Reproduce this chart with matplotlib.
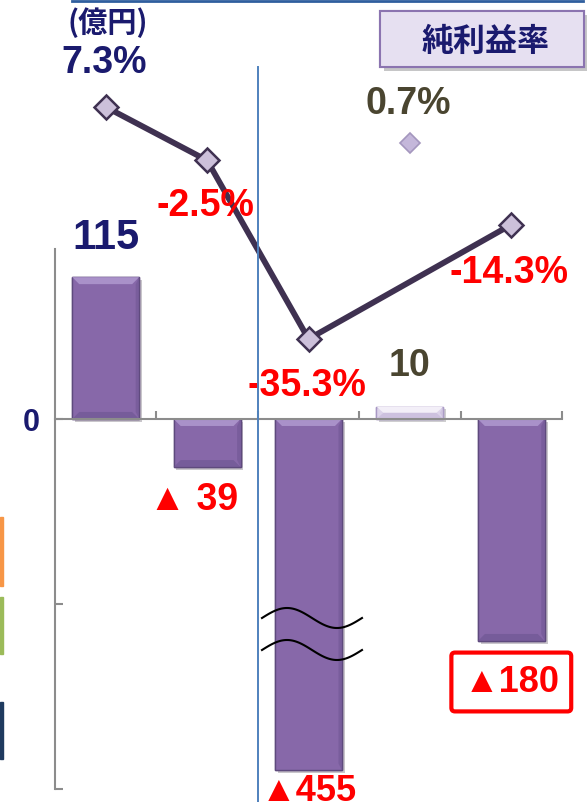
import numpy as np
import matplotlib
matplotlib.use("Agg")
import matplotlib.pyplot as plt
import matplotlib.patheffects as pe
from matplotlib.patches import Rectangle, FancyBboxPatch, Polygon
from matplotlib.lines import Line2D

# data
amounts = [115, -39, -455, 10, -180]
amount_labels = ["115", "▲ 39", "▲455", "10", "▲180"]
amount_shown = [115, -39, -285, 10, -180]   # the -455 bar is drawn broken
rates = [7.3, -2.5, -35.3, 0.7, -14.3]
rate_labels = ["7.3%", "-2.5%", "-35.3%", "0.7%", "-14.3%"]
line_idx = [0, 1, 2, 4]

W, H = 587, 803
NAVY = "#1A1A6E"
RED = "#FF0000"
OLIVE = "#4A4530"
LATIN = ["Liberation Sans", "DejaVu Sans"]
CJK = ["Noto Sans CJK JP", "DejaVu Sans"]

fig = plt.figure(figsize=(W / 100, H / 100), dpi=100)

def fx(px):
    return px / W

def fy(py):
    return 1 - py / H

ax = fig.add_axes([fx(55), fy(790), fx(562 - 55), 790 / H])
x = np.arange(len(amounts))

# bars
colors = ["#8768A9"] * 5
colors[3] = "#DCD3EA"
edges = ["#5E4A7D"] * 5
edges[3] = "#A898C4"
bw = 0.66
bars = ax.bar(x, amount_shown, width=bw, color=colors, edgecolor=edges,
              linewidth=1.0, zorder=2)
for b in bars:
    b.set_path_effects([pe.withSimplePatchShadow(offset=(2, -2), alpha=0.25),
                        pe.Normal()])

ax.set_xlim(-0.5, 4.5)
ax.set_ylim(-300, 340.5)

# bevel look: light band on top edge, darker band at the bottom edge
dx = 7 / 101.4
dy = 7 / 1.2333
for i, v in enumerate(amount_shown):
    l, r = x[i] - bw / 2, x[i] + bw / 2
    top, bot = max(v, 0), min(v, 0)
    d = min(dy, (top - bot) / 2)
    light = "#A991C9" if i != 3 else "#F3EFF8"
    dark = "#6C5490" if i != 3 else "#C3B6D8"
    ax.add_patch(Polygon([(l, top), (r, top), (r - dx, top - d), (l + dx, top - d)],
                         closed=True, fc=light, ec="none", zorder=2.1))
    if i != 2:
        ax.add_patch(Polygon([(l, bot), (r, bot), (r - dx, bot + d), (l + dx, bot + d)],
                             closed=True, fc=dark, ec="none", alpha=0.6, zorder=2.1))
    ax.add_patch(Polygon([(r, top), (r, bot), (r - dx * 0.5, bot + d), (r - dx * 0.5, top - d)],
                         closed=True, fc=dark, ec="none", alpha=0.5, zorder=2.1))

for s in ["top", "right"]:
    ax.spines[s].set_visible(False)
ax.spines["bottom"].set_position(("data", 0))
ax.spines["bottom"].set_color("#8C8C8C")
ax.spines["bottom"].set_linewidth(1.5)
ax.spines["left"].set_color("#8C8C8C")
ax.spines["left"].set_linewidth(1.5)
ax.spines["left"].set_bounds(-300, 138)

ax.set_yticks([-300, -150, 0])
ax.set_yticklabels(["", "", "0"])
ax.tick_params(axis="y", direction="in", length=6, width=1.5, color="#8C8C8C",
               pad=11, labelsize=22, labelcolor=NAVY)
for t in ax.get_yticklabels():
    t.set_fontweight("bold")
    t.set_family(LATIN)
ax.set_xticks([0.5, 1.5, 2.5, 3.5, 4.5])
ax.set_xticklabels([])
ax.tick_params(axis="x", direction="in", length=6, width=1.5, color="#8C8C8C")

# bar labels
for i, (v, lab) in enumerate(zip(amount_shown, amount_labels)):
    if i == 0:
        ax.annotate(lab, (x[i], v), xytext=(0, 40), textcoords="offset pixels",
                    ha="center", va="center", fontsize=30, fontweight="bold",
                    color=NAVY, family=LATIN, zorder=5)
    elif i == 3:
        ax.annotate(lab, (x[i], v), xytext=(0, 42), textcoords="offset pixels",
                    ha="center", va="center", fontsize=27, fontweight="bold",
                    color=OLIVE, family=LATIN, zorder=5)
    elif i == 1:
        ax.annotate(lab, (x[i], v), xytext=(-14, -32), textcoords="offset pixels",
                    ha="center", va="center", fontsize=27, fontweight="bold",
                    color=RED, family=LATIN, zorder=5)
    elif i == 2:
        ax.annotate(lab, (x[i], v), xytext=(0, -20), textcoords="offset pixels",
                    ha="center", va="center", fontsize=26, fontweight="bold",
                    color=RED, family=LATIN, zorder=5)
    else:
        ax.annotate(lab, (x[i], v), xytext=(0, -41), textcoords="offset pixels",
                    ha="center", va="center", fontsize=26, fontweight="bold",
                    color=RED, family=LATIN, zorder=5,
                    bbox=dict(boxstyle="round,pad=0.33,rounding_size=0.1",
                              fc="white", ec=RED, lw=3))

# rate line on twin axis
ax2 = ax.twinx()
ax2.set_ylim(-117.93, 27.13)
ax2.axis("off")
lx = [x[i] for i in line_idx]
ly = [rates[i] for i in line_idx]
ax2.plot(lx, ly, color="#3F3151", lw=4.2, zorder=3)
ax2.plot(lx, ly, ls="none", marker="D", ms=12, mfc="#CCC0DA", mec="#3F3151",
         mew=1.8, zorder=4)
ax2.plot([x[3]], [rates[3]], ls="none", marker="D", ms=10, mfc="#C4B7DA",
         mec="#A496BE", mew=1.2, zorder=4)

rate_off = [45, -45, -46, 40, -47]
rate_colors = [NAVY, RED, RED, OLIVE, RED]
for i, (v, lab) in enumerate(zip(rates, rate_labels)):
    ax2.annotate(lab, (x[i], v), xytext=(-2, rate_off[i]), textcoords="offset pixels",
                 ha="center", va="center", fontsize=27, fontweight="bold",
                 color=rate_colors[i], family=LATIN, zorder=6)

# break marks on the -455 bar
wx = np.linspace(262, 362, 120)
for c in [619, 651]:
    wy = c - 10 * np.sin(2 * np.pi * (wx - 262) / 100)
    fig.add_artist(Line2D(fx(wx), fy(wy), color="black", lw=1.5, zorder=10))

# separators and frame pieces
fig.add_artist(Line2D([fx(258), fx(258)], [fy(68), 0], color="#4F81BD", lw=1.4))
fig.add_artist(Line2D([fx(72), fx(583)], [fy(1.5), fy(1.5)], color="#2F5E9E", lw=2))
for y0, y1, c in [(518, 587, "#F79646"), (598, 655, "#9BBB59"), (703, 760, "#1F3A5F")]:
    fig.add_artist(Rectangle((0, fy(y1)), fx(3), (y1 - y0) / H, color=c))

# unit label
fig.text(fx(108), fy(23), "(億円)", ha="center", va="center", fontsize=21,
         fontweight="bold", color=NAVY, family=CJK)

# legend-like box
box = FancyBboxPatch((fx(380), fy(68)), fx(204), 56 / H,
                     boxstyle="square,pad=0", fc="#E6E0F1", ec="#8B74B0", lw=1.5,
                     transform=fig.transFigure)
box.set_path_effects([pe.withSimplePatchShadow(offset=(3, -3), alpha=0.3),
                      pe.Normal()])
fig.add_artist(box)
fig.text(fx(486), fy(42), "純利益率", ha="center", va="center", fontsize=23,
         fontweight="bold", color=NAVY, family=CJK)

fig.savefig("out.png", dpi=100)
